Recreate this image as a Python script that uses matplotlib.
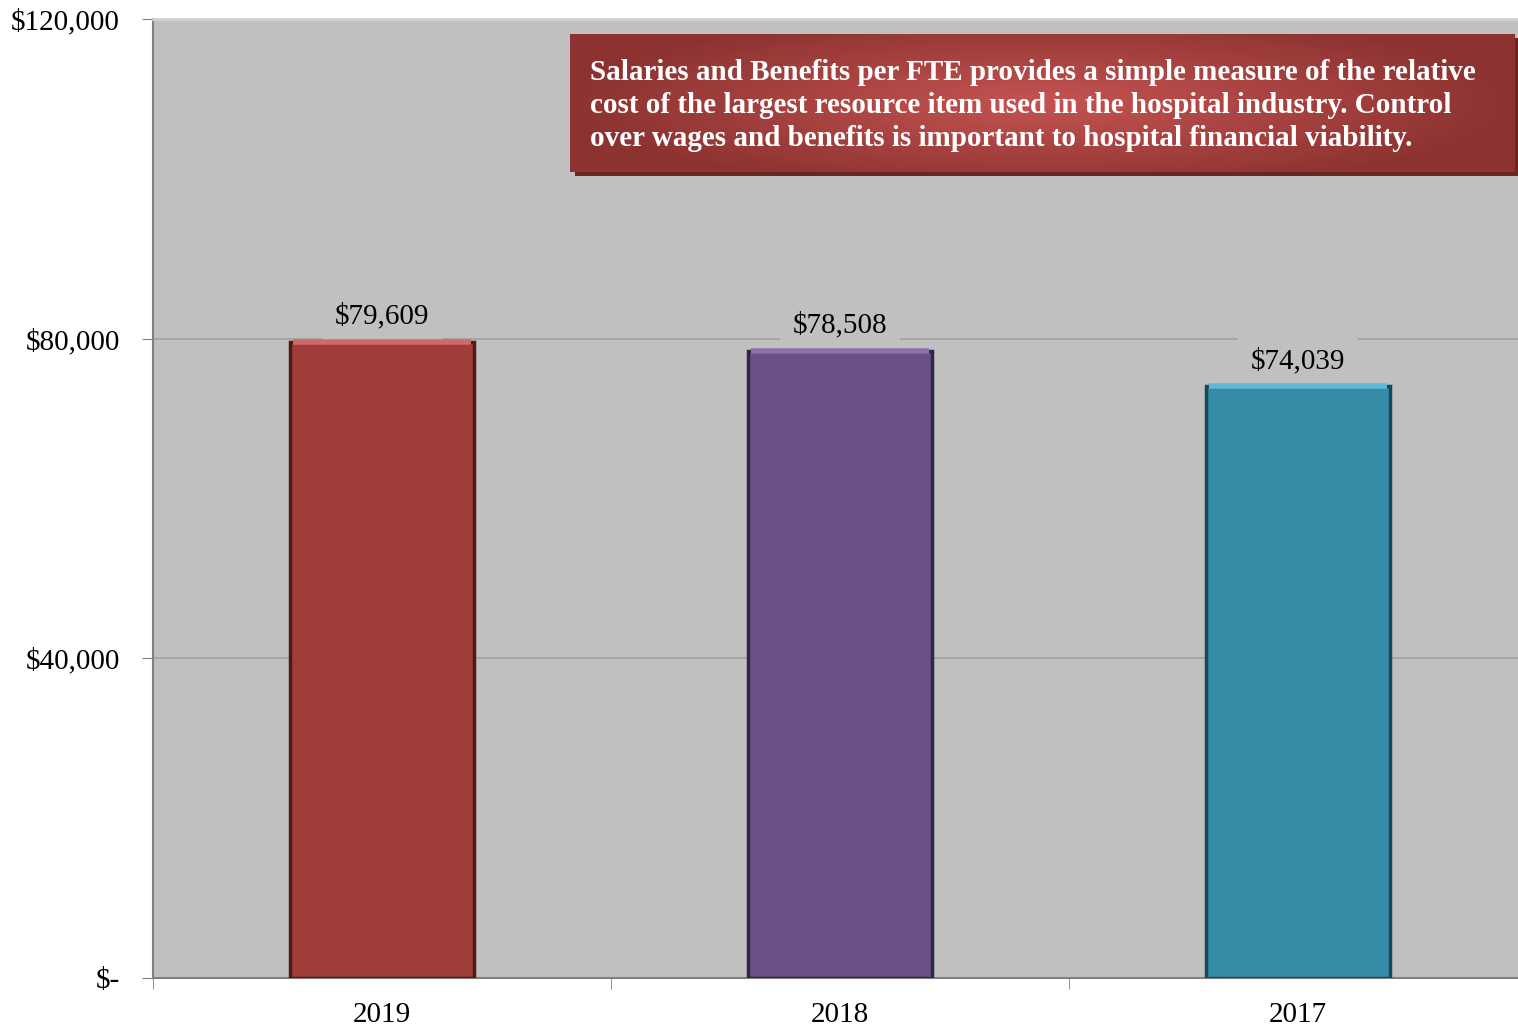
import matplotlib.pyplot as plt
import numpy as np
from matplotlib.ticker import FixedLocator

years = ['2019', '2018', '2017']
values = [79609, 78508, 74039]
colors = ['#A03D3A', '#6A5084', '#378DA8']
edges = ['#4E1A18', '#33244A', '#18485A']
lights = ['#D06A68', '#8D74A8', '#5EBAD6']
yticks = [0, 40000, 80000, 120000]
ytick_labels = ['$-', '$40,000', '$80,000', '$120,000']
note = ("Salaries and Benefits per FTE provides a simple measure of the relative\n"
        "cost of the largest resource item used in the hospital industry. Control\n"
        "over wages and benefits is important to hospital financial viability.")

plt.rcParams['font.family'] = ['Liberation Serif', 'DejaVu Serif']

fig = plt.figure(figsize=(15.18, 10.31), dpi=100)
ax = fig.add_axes([0.1008, 0.0514, 0.9051, 0.9302])
ax.set_facecolor('#C0C0C0')

x = np.arange(len(years))
w = 0.4
ax.bar(x, values, width=w, color=colors, edgecolor=edges, linewidth=2.5, zorder=3)
# simple bevel highlight along the top of each bar
ax.hlines(values, x - w / 2 + 0.006, x + w / 2 - 0.006, colors=lights, linewidth=4, zorder=4)

# value labels sit on a grey box that hides the gridline behind them
for xi, v in zip(x, values):
    ax.text(xi, v + 1500, '${:,}'.format(v), ha='center', va='bottom', fontsize=21,
            zorder=2, bbox=dict(boxstyle='square,pad=0.45', fc='#C0C0C0', ec='none'))

ax.set_xlim(-0.5, 2.5)
ax.set_ylim(0, 120000)
ax.set_yticks(yticks)
ax.set_yticklabels(ytick_labels, fontsize=21)
ax.set_xticks(x)
ax.set_xticklabels(years, fontsize=21)
ax.xaxis.set_minor_locator(FixedLocator([-0.5, 0.5, 1.5, 2.5]))
ax.tick_params(axis='x', which='major', length=0, pad=17)
ax.tick_params(axis='x', which='minor', length=8, color='#808080', direction='out')
ax.tick_params(axis='y', length=8, color='#808080', pad=16)

ax.grid(axis='y', color='#A0A0A0', linewidth=1.2, zorder=1)
ax.set_axisbelow(True)
ax.spines['right'].set_visible(False)
ax.spines['top'].set_color('#D0D0D0')
ax.spines['top'].set_linewidth(2)
ax.spines['left'].set_color('#808080')
ax.spines['left'].set_linewidth(1.5)
ax.spines['bottom'].set_color('#808080')
ax.spines['bottom'].set_linewidth(1.5)

# note box with shadow and radial gradient
shadow = fig.add_axes([0.3789, 0.8290, 0.6225, 0.1340])
shadow.set_facecolor('#6B2523')
shadow.set_xticks([])
shadow.set_yticks([])
for s in shadow.spines.values():
    s.set_visible(False)

box = fig.add_axes([0.3755, 0.8332, 0.6225, 0.1340])
gx, gy = np.meshgrid(np.linspace(-1, 1, 300), np.linspace(-1, 1, 100))
r = np.clip(np.sqrt((gx / 1.0) ** 2 + (gy / 1.3) ** 2), 0, 1)
c0 = np.array([0xC4, 0x54, 0x52]) / 255
c1 = np.array([0x8C, 0x33, 0x31]) / 255
img = c0[None, None, :] * (1 - r[..., None]) + c1[None, None, :] * r[..., None]
box.imshow(img, aspect='auto', extent=[0, 1, 0, 1])
box.set_xlim(0, 1)
box.set_ylim(0, 1)
box.set_xticks([])
box.set_yticks([])
for s in box.spines.values():
    s.set_visible(False)
box.text(0.021, 0.48, note, color='white', fontsize=21, fontweight='bold',
         ha='left', va='center', linespacing=1.3)

fig.savefig('out.png', dpi=100)
